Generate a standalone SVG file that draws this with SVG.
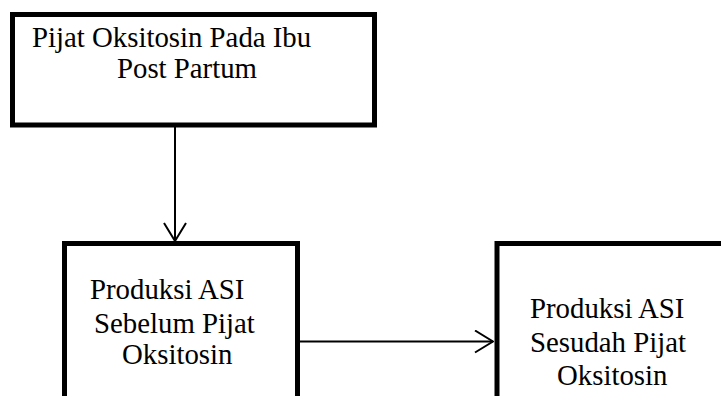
<svg xmlns="http://www.w3.org/2000/svg" width="721" height="396" viewBox="0 0 721 396">
<style>
.box{fill:#fff;stroke:#000;stroke-width:5}
.t{font-family:"Liberation Serif","Times New Roman",serif;font-size:28.8px;fill:#000}
.c{fill:none;stroke:#000;stroke-width:2}
</style>
<defs>
<marker id="ah" viewBox="0 0 20 24" refX="19" refY="12" markerWidth="20" markerHeight="24" markerUnits="userSpaceOnUse" orient="auto">
<path d="M1,1 L19,12 L1,23" fill="none" stroke="#000" stroke-width="2"/>
</marker>
</defs>
<rect width="721" height="396" fill="#fff"/>
<g id="node-top">
<rect class="box" x="12.5" y="14.5" width="362" height="110.5"/>
<text class="t" x="32" y="47">Pijat Oksitosin Pada Ibu</text>
<text class="t" x="117" y="78">Post Partum</text>
</g>
<g id="node-before">
<rect class="box" x="64.5" y="243.5" width="233" height="170"/>
<text class="t" x="90" y="299">Produksi ASI</text>
<text class="t" x="94" y="333">Sebelum Pijat</text>
<text class="t" x="122" y="364">Oksitosin</text>
</g>
<g id="node-after">
<rect class="box" x="497" y="243.5" width="250" height="170"/>
<text class="t" x="530" y="318">Produksi ASI</text>
<text class="t" x="530" y="352">Sesudah Pijat</text>
<text class="t" x="557" y="385">Oksitosin</text>
</g>
<g id="connectors">
<line class="c" x1="175" y1="127" x2="175" y2="241" marker-end="url(#ah)"/>
<line class="c" x1="300" y1="341.5" x2="493" y2="341.5" marker-end="url(#ah)"/>
</g>
</svg>
